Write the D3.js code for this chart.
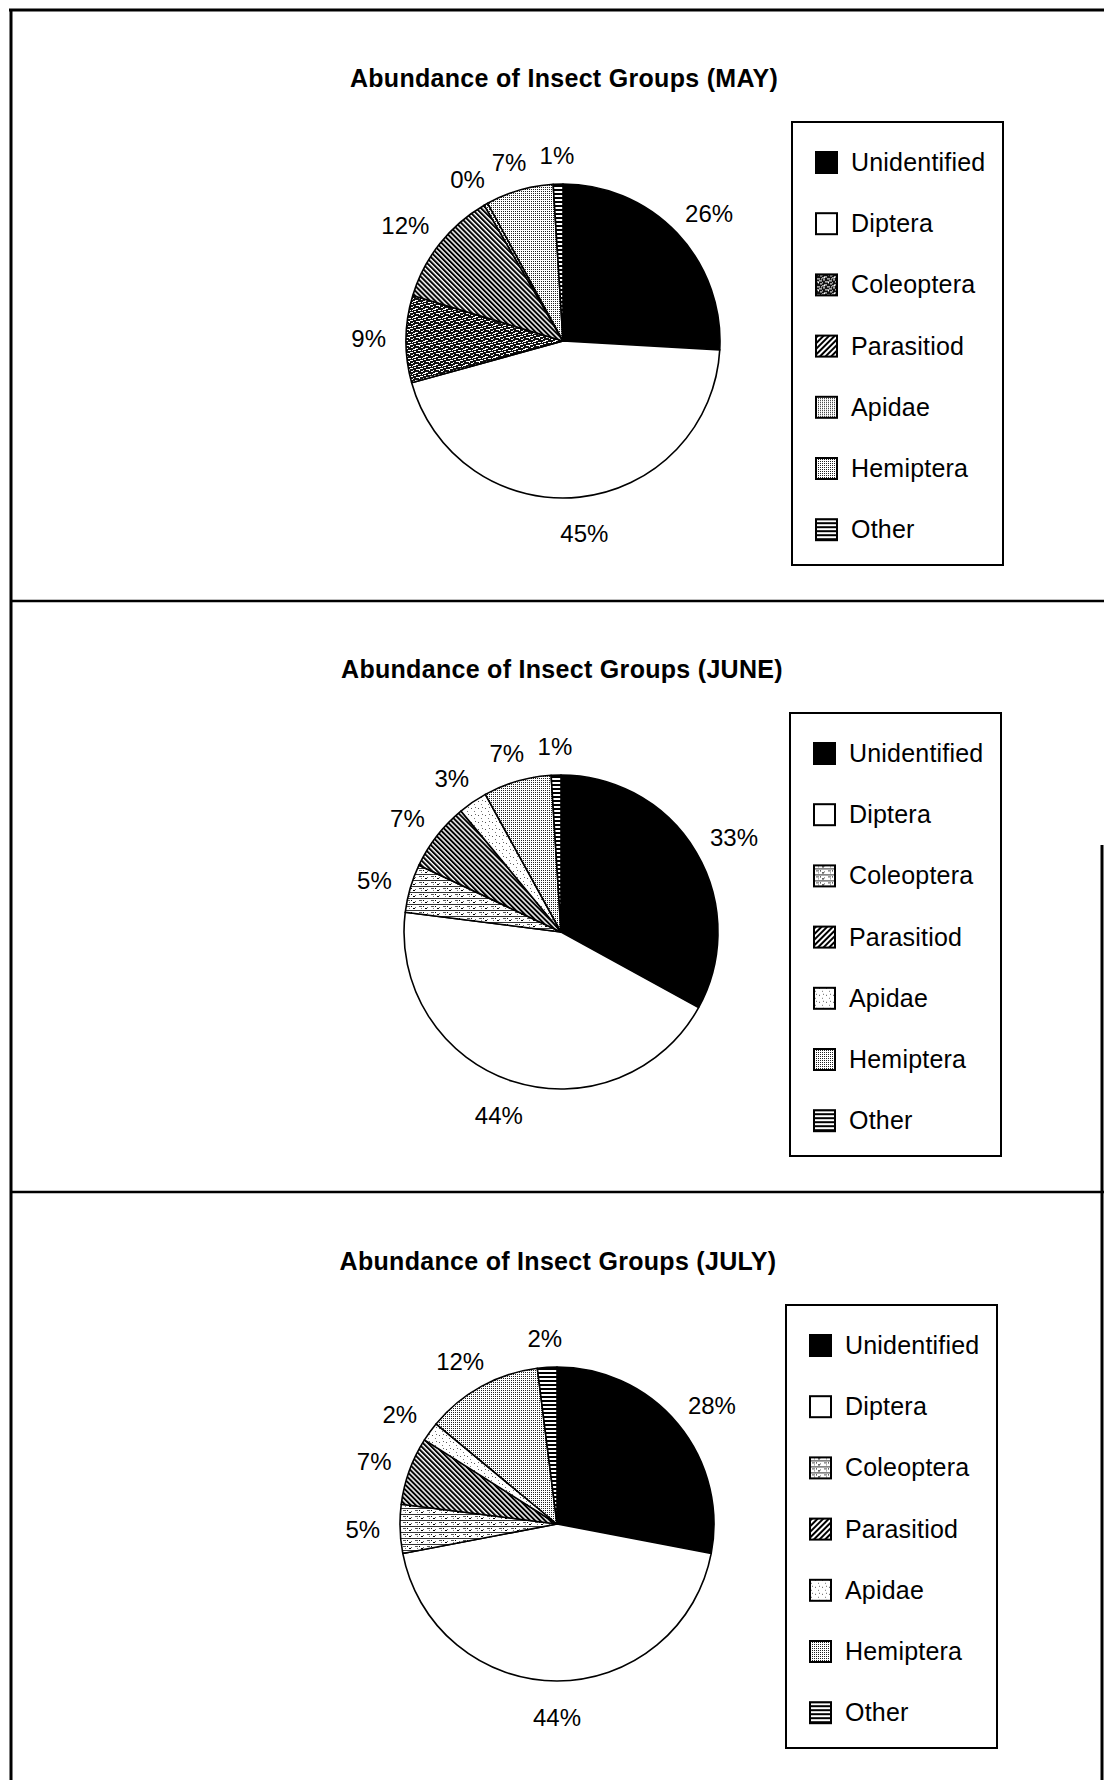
<!DOCTYPE html>
<html><head><meta charset="utf-8">
<script src="https://cdn.jsdelivr.net/npm/d3@7"></script>
<style>body{margin:0;background:#fff} svg{display:block}</style>
</head><body>
<script>
// ---- data ----
const categories = ["Unidentified","Diptera","Coleoptera","Parasitiod","Apidae","Hemiptera","Other"];
const months = ["MAY","JUNE","JULY"];
const mayValues  = [26, 45, 9, 12, 0.4, 7, 1];
const juneValues = [33, 44, 5, 7, 3, 7, 1];
const julyValues = [28, 44, 5, 7, 2, 12, 2];
const titleText = "Abundance of Insect Groups";

const monthValues = [mayValues, juneValues, julyValues];

// ---- layout ----
const W = 1104, H = 1780;
const panels = [{top:0, dx:0}, {top:591, dx:-2}, {top:1183, dx:-6}];
const pieCx = 563, pieCy = 341, R = 157, labelGap = 177;
const titleX = 564, titleY = 87;
const legX = 792, legY = 122, legW = 211, legH = 443;
const legItem0 = 171, legStep = 61.2;

const svg = d3.select("body").append("svg").attr("width", W).attr("height", H)
  .style("font-family", "'Liberation Sans', Arial, sans-serif");
const defs = svg.append("defs");

function pattern(id, w, h, bg, rects, transform) {
  const p = defs.append("pattern").attr("id", id)
    .attr("patternUnits", "userSpaceOnUse").attr("width", w).attr("height", h);
  if (transform) p.attr("patternTransform", transform);
  p.append("rect").attr("width", w).attr("height", h).attr("fill", bg);
  rects.forEach(r => p.append("rect").attr("x", r[0]).attr("y", r[1])
    .attr("width", r[2]).attr("height", r[3]).attr("fill", r[4] || "#000"));
}
pattern("para-pie", 3.5, 3.5, "#fff", [[0,0,2,3.5]], "rotate(-45)");
pattern("para-leg", 4, 4, "#fff", [[0,0,2,4]], "rotate(45)");
pattern("hemi", 2, 2, "#fff", [[0,0,1,1,"#222"]]);
pattern("other", 4, 4, "#fff", [[0,0,4,2]]);
pattern("coleo-dark", 10, 8, "#111", [[0,0,3,1,"#fff"],[5,1,3,1,"#fff"],[1,2,2,1,"#fff"],[7,3,3,1,"#fff"],
  [3,4,4,1,"#fff"],[0,5,1,1,"#fff"],[8,6,2,1,"#fff"],[2,7,3,1,"#fff"],[6,5,1,1,"#fff"],[9,1,1,1,"#fff"]]);
pattern("coleo-light", 12, 6, "#fff", [[0,2,12,1,"#333"],[2,4,3,1,"#555"],[8,0,2,1],[6,4,1,1],[10,5,1,1,"#666"],[4,0,1,1,"#777"]]);
pattern("apid-speck", 7, 7, "#fff", [[1,2,1,1,"#555"],[4,5,1,1,"#777"],[5,1,1,1,"#666"]]);

const pieFills = [
  ["#000","#fff","url(#coleo-dark)","url(#para-pie)","url(#hemi)","url(#hemi)","url(#other)"],
  ["#000","#fff","url(#coleo-light)","url(#para-pie)","url(#apid-speck)","url(#hemi)","url(#other)"],
  ["#000","#fff","url(#coleo-light)","url(#para-pie)","url(#apid-speck)","url(#hemi)","url(#other)"]
];
const legFills = pieFills.map(f => f.map((c, i) => i === 3 ? "url(#para-leg)" : c));

const pie = d3.pie().sort(null).startAngle(0).endAngle(2 * Math.PI);
const arc = d3.arc().innerRadius(0).outerRadius(R);
const fmt = d3.format(".0f");
const yLeg = d3.scalePoint().domain(categories).range([0, legStep * (categories.length - 1)]);

months.forEach((m, k) => {
  const p = panels[k];
  const g = svg.append("g").attr("transform", `translate(${p.dx},${p.top})`);
  const values = monthValues[k];

  g.append("text").attr("x", titleX).attr("y", titleY).attr("text-anchor", "middle")
    .attr("font-weight", "bold").attr("font-size", 25).attr("letter-spacing", 0.3)
    .text(`${titleText} (${m})`);

  const pg = g.append("g").attr("transform", `translate(${pieCx},${pieCy})`);
  const pieData = pie(values);
  pg.selectAll("path").data(pieData).join("path")
    .attr("d", arc)
    .attr("fill", (d, i) => pieFills[k][i])
    .attr("stroke", "#000").attr("stroke-width", 1.6).attr("stroke-linejoin", "round");
  pg.selectAll("text").data(pieData).join("text")
    .attr("text-anchor", "middle").attr("dy", "0.36em")
    .attr("font-size", 24)
    .text(d => fmt(d.data) + "%")
    .attr("transform", function(d) {
      const a = (d.startAngle + d.endAngle) / 2;
      const ux = Math.sin(a), uy = -Math.cos(a);
      const hw = this.getComputedTextLength() / 2, hh = uy > 0 ? 9 + 7 * uy : 9;
      return `translate(${ux * (labelGap + hw)},${uy * (labelGap + hh)})`;
    });

  // legend
  const lg = g.append("g");
  lg.append("rect").attr("x", legX).attr("y", legY).attr("width", legW).attr("height", legH)
    .attr("fill", "#fff").attr("stroke", "#000").attr("stroke-width", 2);
  const items = lg.selectAll("g.item").data(categories).join("g").attr("class", "item")
    .attr("transform", c => `translate(${legX},${legItem0 + yLeg(c)})`);
  items.append("rect").attr("x", 24).attr("y", -19).attr("width", 21).attr("height", 21)
    .attr("fill", (c, i) => legFills[k][i]).attr("stroke", "#000").attr("stroke-width", 2);
  items.append("text").attr("x", 59).attr("y", 0).attr("font-size", 25).attr("letter-spacing", 0.2)
    .text(c => c);
});

// frame
const frame = svg.append("g").attr("stroke", "#000").attr("fill", "none");
frame.append("line").attr("x1", 9).attr("x2", W).attr("y1", 10).attr("y2", 10).attr("stroke-width", 3);
frame.append("line").attr("x1", 11).attr("x2", 11).attr("y1", 9).attr("y2", H).attr("stroke-width", 3);
frame.append("line").attr("x1", 10).attr("x2", W).attr("y1", 601).attr("y2", 601).attr("stroke-width", 2.5);
frame.append("line").attr("x1", 10).attr("x2", W).attr("y1", 1192).attr("y2", 1192).attr("stroke-width", 2.5);
frame.append("line").attr("x1", 1102).attr("x2", 1102).attr("y1", 845).attr("y2", H).attr("stroke-width", 3);
</script>
</body></html>
